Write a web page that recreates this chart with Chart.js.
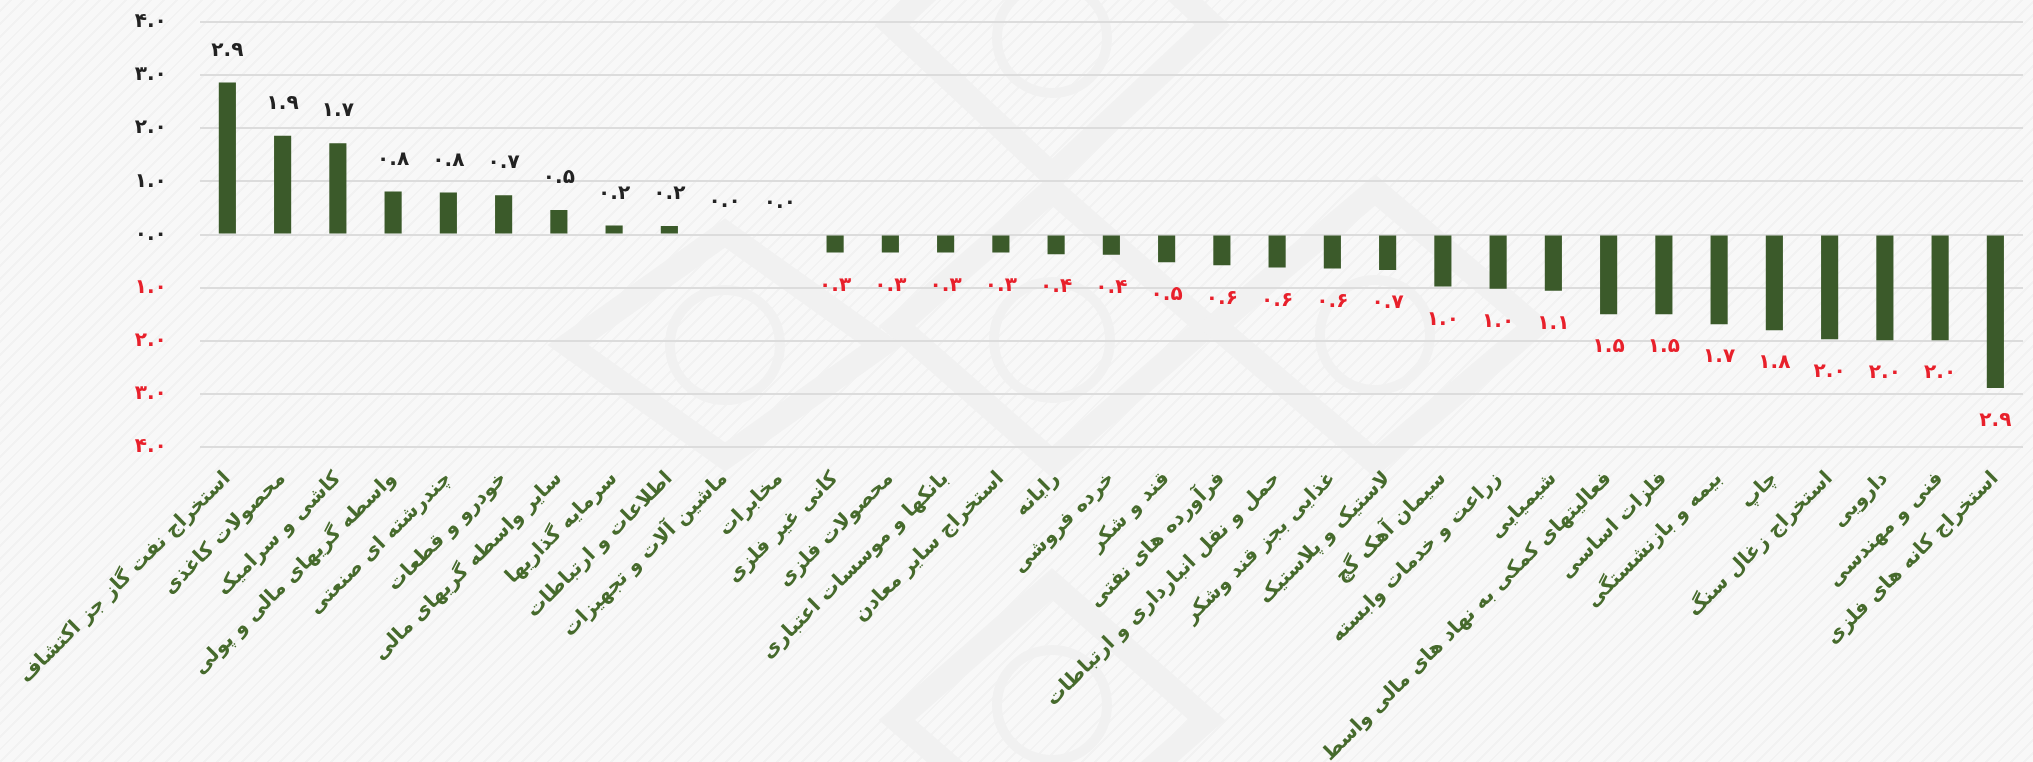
<!DOCTYPE html>
<html lang="fa">
<head>
<meta charset="utf-8">
<title>بازده صنایع</title>
<script src="https://cdn.jsdelivr.net/npm/chart.js@4.4.1/dist/chart.umd.min.js"></script>
<style>
  html, body { margin: 0; padding: 0; }
  body {
    width: 2033px; height: 762px; overflow: hidden;
    background-color: #f7f7f7;
    background-image: repeating-linear-gradient(135deg, #f8f8f8 0 7px, #f2f2f2 7px 9px);
  }
  #wrap { position: relative; width: 2033px; height: 762px; }
  #wrap svg, #wrap canvas { position: absolute; left: 0; top: 0; }
</style>
</head>
<body>
<div id="wrap">
  <!-- faint logo watermark behind the chart -->
  <svg width="2033" height="762" fill="none" stroke="#f1f1f1">
    <g stroke-width="24">
      <polygon points="1052,-125 1212,25 1052,175 892,25"/>
      <polygon points="1052,190 1207,326 1052,462 897,326"/>
      <polygon points="725,233 882,345 725,457 568,345"/>
      <polygon points="1375,190 1535,326 1375,462 1215,326"/>
      <polygon points="1052,584 1207,720 1052,856 897,720"/>
    </g>
    <g stroke-width="10">
      <circle cx="1052" cy="38" r="55"/>
      <circle cx="1052" cy="340" r="58"/>
      <circle cx="725" cy="345" r="55"/>
      <circle cx="1375" cy="335" r="55"/>
      <circle cx="1052" cy="705" r="55"/>
    </g>
  </svg>
  <canvas id="chart" width="2033" height="762"></canvas>
</div>
<script>
// industries, left to right
const categories = [
  'استخراج نفت گاز جز اکتشاف', 'محصولات کاغذی', 'کاشی و سرامیک', 'واسطه گریهای مالی و پولی',
  'چندرشته ای صنعتی', 'خودرو و قطعات', 'سایر واسطه گریهای مالی', 'سرمایه گذاریها',
  'اطلاعات و ارتباطات', 'ماشین آلات و تجهیزات', 'مخابرات', 'کانی غیر فلزی',
  'محصولات فلزی', 'بانکها و موسسات اعتباری', 'استخراج سایر معادن', 'رایانه',
  'خرده فروشی', 'قند و شکر', 'فرآورده های نفتی', 'حمل و نقل انبارداری و ارتباطات',
  'غذایی بجز قند وشکر', 'لاستیک و پلاستیک', 'سیمان آهک گچ', 'زراعت و خدمات وابسته',
  'شیمیایی', 'فعالیتهای کمکی به نهاد های مالی واسط', 'فلزات اساسی', 'بیمه و بازنشستگی',
  'چاپ', 'استخراج زغال سنگ', 'دارویی', 'فنی و مهندسی', 'استخراج کانه های فلزی'
];
const values = [
  2.86, 1.86, 1.72, 0.81, 0.79, 0.74, 0.46, 0.17, 0.16, 0.02, 0,
  -0.34, -0.34, -0.34, -0.34, -0.37, -0.38, -0.52, -0.58, -0.62, -0.64,
  -0.67, -0.98, -1.02, -1.06, -1.5, -1.5, -1.69, -1.8, -1.97, -1.99, -1.99, -2.89
];
const yMin = -4;
const yMax = 4;
const yStep = 1;

const BAR_COLOR = '#3b5a2a';
const LABEL_GREEN = '#466a2c';
const NEG_RED = '#e8202b';
const POS_DARK = '#222222';
const FONT = '"DejaVu Sans", "Noto Sans", sans-serif';

function faDigits(str) {
  return str.replace(/\d/g, d => '۰۱۲۳۴۵۶۷۸۹'[d]);
}
function fmt(v) {
  return faDigits(Math.abs(v).toFixed(1));
}

// value labels above / below each bar
const valueLabels = {
  id: 'valueLabels',
  afterDatasetsDraw(chart) {
    const { ctx } = chart;
    const meta = chart.getDatasetMeta(0);
    ctx.save();
    ctx.font = 'bold 20px ' + FONT;
    ctx.textAlign = 'center';
    ctx.textBaseline = 'middle';
    meta.data.forEach((bar, i) => {
      const v = values[i];
      if (v < 0) {
        ctx.fillStyle = NEG_RED;
        ctx.fillText(fmt(v), bar.x, bar.y + 33);
      } else {
        ctx.fillStyle = POS_DARK;
        ctx.fillText(fmt(v), bar.x, bar.y - 32);
      }
    });
    ctx.restore();
  }
};

new Chart(document.getElementById('chart').getContext('2d'), {
  type: 'bar',
  data: {
    labels: categories,
    datasets: [{
      data: values,
      backgroundColor: BAR_COLOR,
      borderWidth: 0,
      barPercentage: 0.31,
      categoryPercentage: 1,
    }],
  },
  options: {
    responsive: false,
    animation: false,
    layout: { padding: { top: 22, right: 10, left: 134, bottom: 0 } },
    plugins: {
      legend: { display: false },
      tooltip: { enabled: false },
    },
    scales: {
      x: {
        grid: { display: false, drawTicks: false },
        border: { display: false },
        ticks: {
          autoSkip: false,
          minRotation: 45,
          maxRotation: 45,
          padding: 20,
          color: LABEL_GREEN,
          font: { family: FONT, size: 20, weight: 'bold' },
        },
        afterFit: scale => { scale.height = 315; },
      },
      y: {
        min: yMin,
        max: yMax,
        grid: { color: '#dcdcdc', lineWidth: 2, drawTicks: false },
        border: { display: false },
        ticks: {
          stepSize: yStep,
          padding: 0,
          crossAlign: 'far',
          color: c => (c.tick && c.tick.value < 0 ? NEG_RED : POS_DARK),
          font: { family: FONT, size: 20, weight: 'bold' },
          callback: v => fmt(v),
        },
        afterFit: scale => { scale.width = 65; },
      },
    },
  },
  plugins: [valueLabels],
});
</script>
</body>
</html>
